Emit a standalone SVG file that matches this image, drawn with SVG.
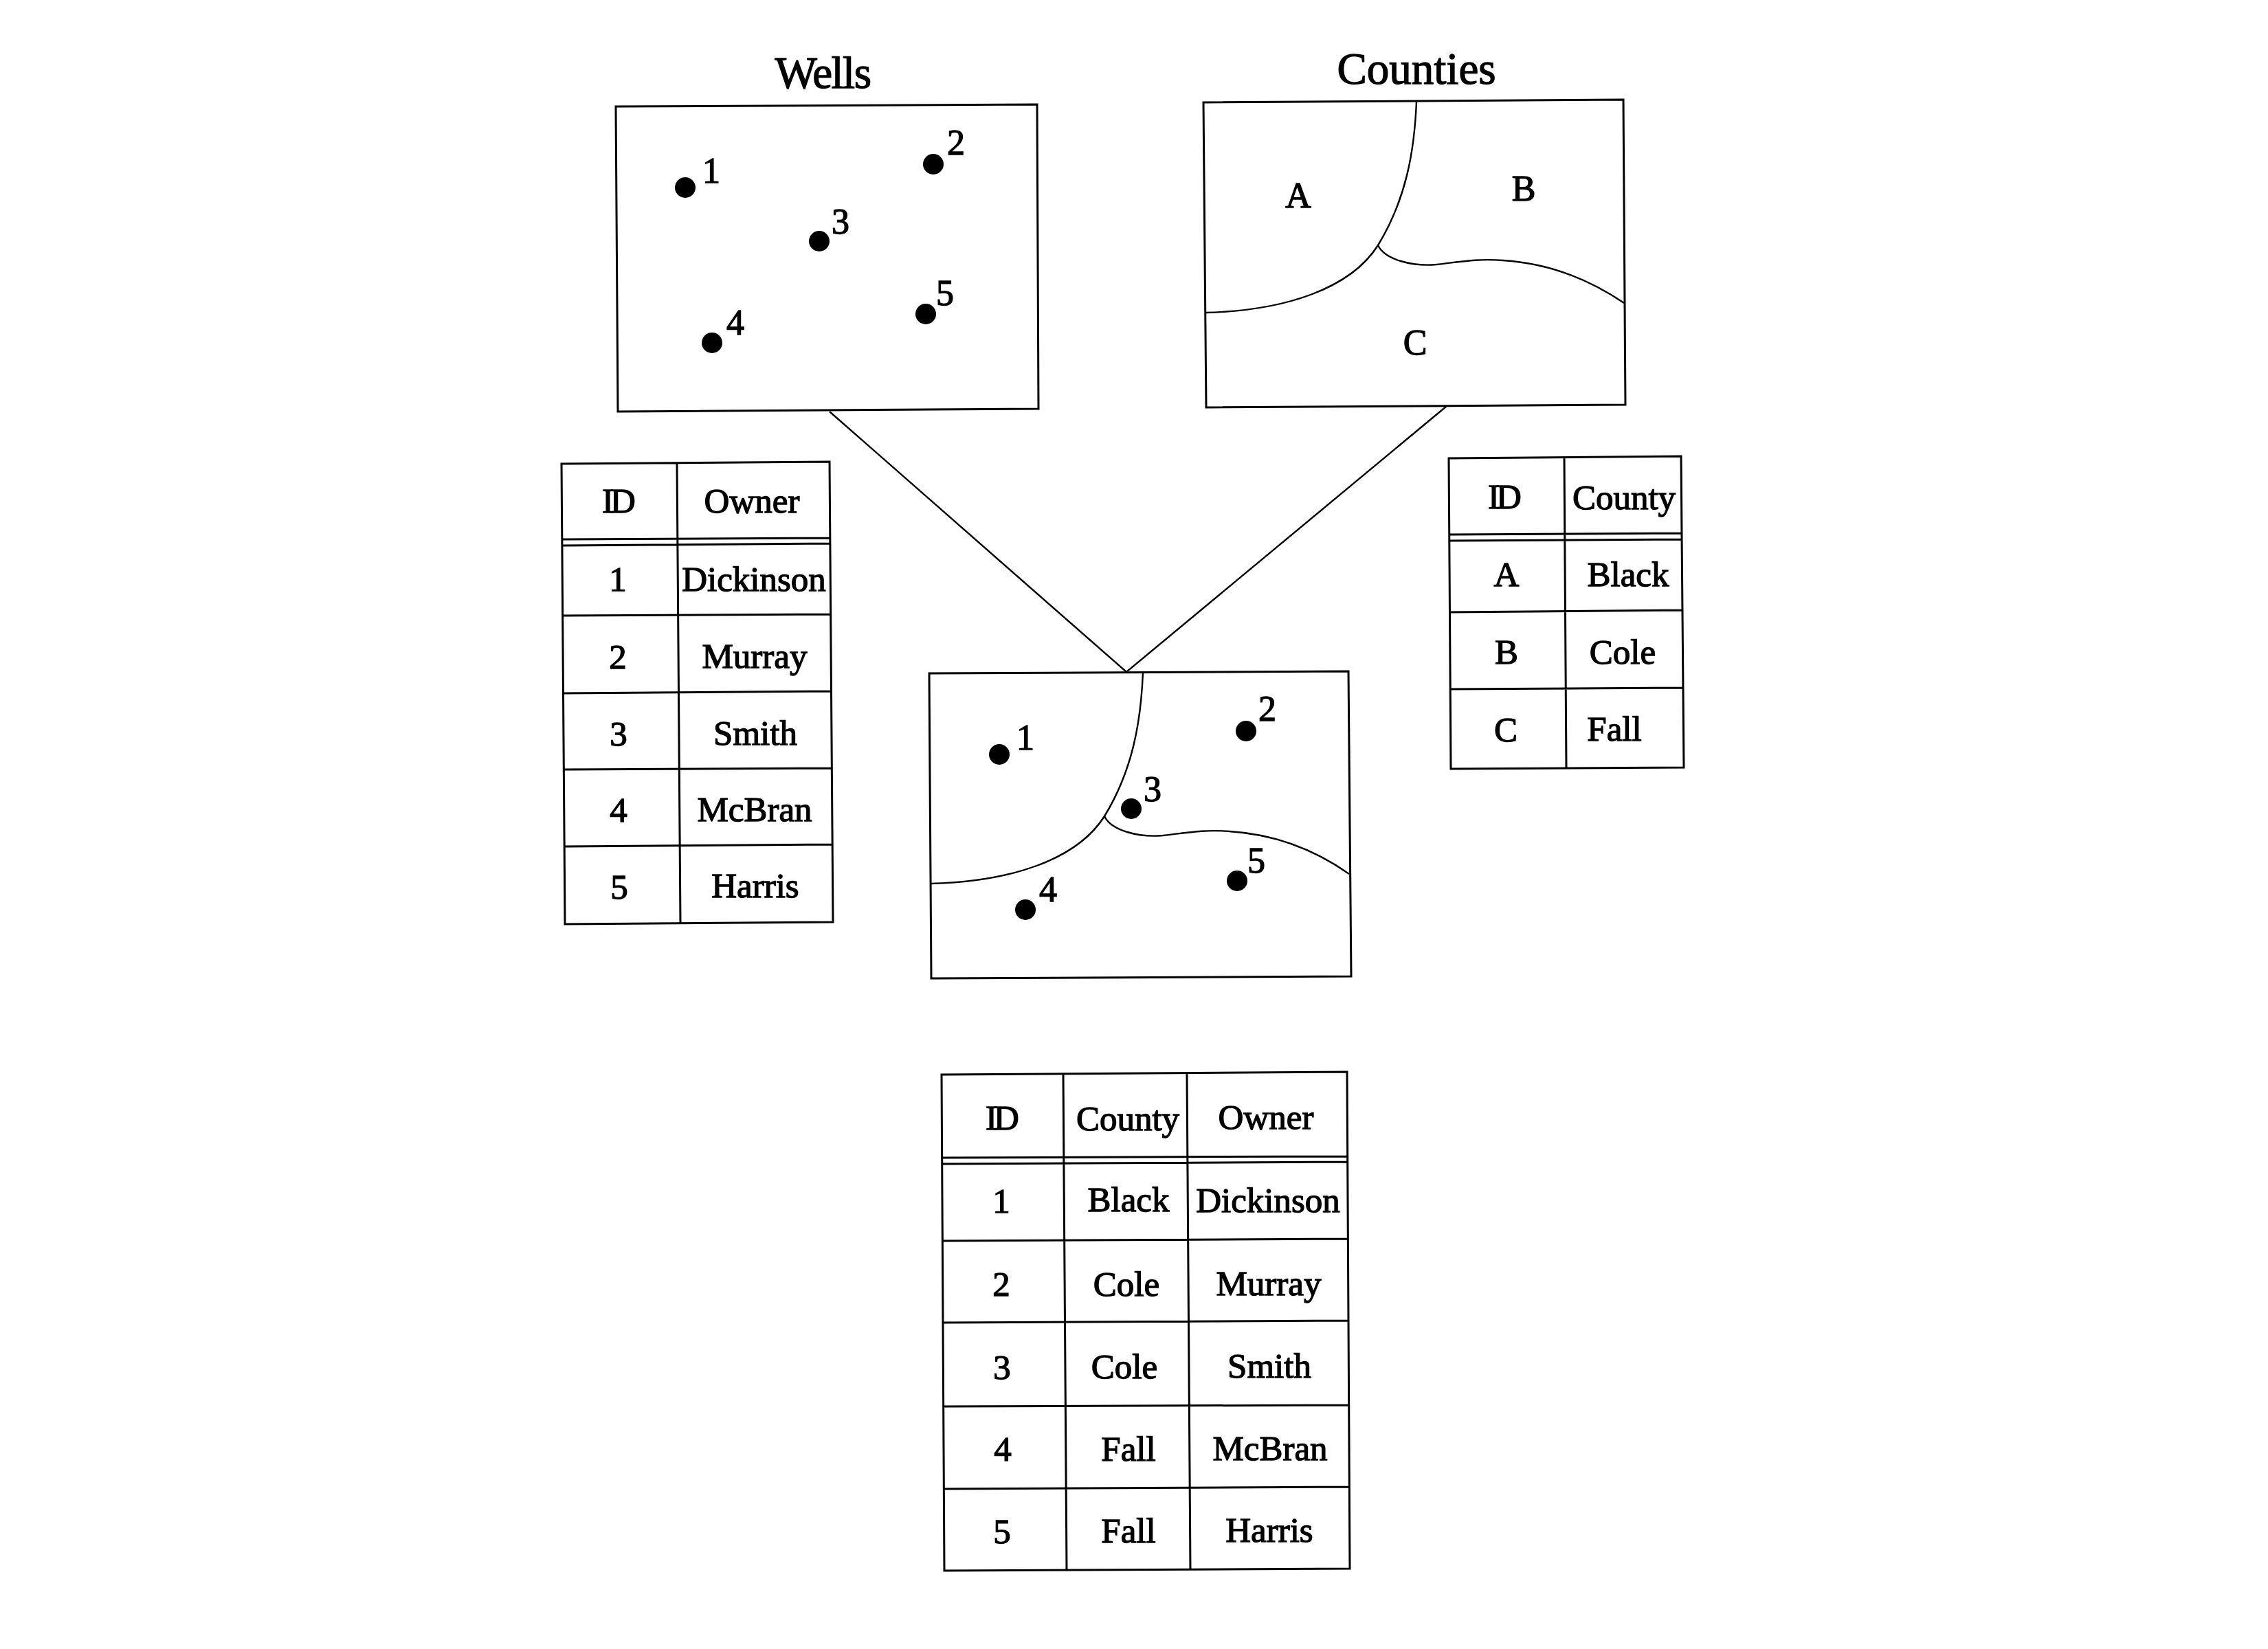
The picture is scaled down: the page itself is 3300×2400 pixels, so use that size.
<svg xmlns="http://www.w3.org/2000/svg" width="3300" height="2400" viewBox="0 0 3300 2400">
<style>
text{font-family:"Liberation Serif","Times New Roman",serif;fill:#000;stroke:#000;stroke-width:1.3;text-anchor:middle}
.t{font-size:65px}.c{font-size:51px}.l{font-size:52px}
.i{letter-spacing:-5px}
.b{fill:none;stroke:#000;stroke-width:3}
.g{fill:none;stroke:#000;stroke-width:2.4}
.d{fill:#000}
</style>
<rect width="3300" height="2400" fill="#fff"/>
<g id="connectors"><path class="g" d="M1207,599L1639,978L2105,591"/></g>

<g id="wells-map">
<text class="t" x="1197" y="128" letter-spacing="-1.5">Wells</text>
<path class="b" d="M896,155L1509,152L1511,595L899,599Z"/>
<circle class="d" cx="997" cy="273" r="15"/><circle class="d" cx="1358" cy="239" r="15"/><circle class="d" cx="1192" cy="351" r="15"/><circle class="d" cx="1036" cy="499" r="15"/><circle class="d" cx="1347" cy="457" r="15"/>
<text class="l" x="1035" y="266">1</text><text class="l" x="1391" y="225">2</text><text class="l" x="1223" y="340">3</text><text class="l" x="1070" y="487">4</text><text class="l" x="1375" y="444">5</text>
</g>

<g id="counties-map">
<text class="t" x="2061" y="122">Counties</text>
<path class="b" d="M1751,149L2362,145L2365,589L1755,593Z"/>
<path class="g" d="M2061,148C2058,220 2046,290 2005,357C1965,420 1870,452 1755,455"/>
<path class="g" d="M2005,357C2015,378 2055,388 2090,385C2125,381 2150,376 2187,379C2250,383 2310,405 2363,441"/>
<text class="l" x="1889" y="302">A</text><text class="l" x="2217" y="292">B</text><text class="l" x="2059" y="516">C</text>
</g>

<g id="overlay-map">
<path class="b" d="M1352,980L1962,977L1966,1421L1355,1424Z"/>
<path class="g" d="M1663,979C1660,1051 1648,1121 1607,1188C1567,1251 1472,1283 1354,1286"/>
<path class="g" d="M1607,1188C1617,1209 1657,1219 1692,1216C1727,1212 1752,1207 1789,1210C1852,1214 1912,1236 1963,1272"/>
<circle class="d" cx="1454" cy="1098" r="15"/><circle class="d" cx="1813" cy="1064" r="15"/><circle class="d" cx="1646" cy="1177" r="15"/><circle class="d" cx="1492" cy="1324" r="15"/><circle class="d" cx="1800" cy="1282" r="15"/>
<text class="l" x="1492" y="1091">1</text><text class="l" x="1844" y="1049">2</text><text class="l" x="1677" y="1166">3</text><text class="l" x="1525" y="1312">4</text><text class="l" x="1828" y="1270">5</text>
</g>

<g id="wells-table">
<path class="b" d="M817,675L1207,672L1212,1342L822,1345ZM985,674L990,1344M818,785L1208,783M818,794L1208,791M819,896L1209,894M820,1009L1210,1006M821,1120L1211,1118M822,1232L1212,1229"/>
<text class="c i" x="898" y="746">ID</text><text class="c" x="1094" y="746">Owner</text>
<text class="c" x="899" y="860">1</text><text class="c" x="1097" y="860">Dickinson</text>
<text class="c" x="899" y="973">2</text><text class="c" x="1098" y="972">Murray</text>
<text class="c" x="900" y="1085">3</text><text class="c" x="1099" y="1084">Smith</text>
<text class="c" x="900" y="1196">4</text><text class="c" x="1098" y="1195">McBran</text>
<text class="c" x="901" y="1308">5</text><text class="c" x="1099" y="1306">Harris</text>
</g>

<g id="counties-table">
<path class="b" d="M2108,667L2446,664L2450,1117L2111,1119ZM2276,665L2279,1118M2109,778L2447,776M2109,787L2447,785M2109,891L2448,888M2110,1003L2449,1001"/>
<text class="c i" x="2187" y="740">ID</text><text class="c" x="2363" y="741">County</text>
<text class="c" x="2192" y="853">A</text><text class="c" x="2369" y="853">Black</text>
<text class="c" x="2192" y="966">B</text><text class="c" x="2361" y="966">Cole</text>
<text class="c" x="2191" y="1079">C</text><text class="c" x="2349" y="1078">Fall</text>
</g>

<g id="joined-table">
<path class="b" d="M1370,1564L1960,1560L1964,2283L1374,2286ZM1547,1563L1552,2285M1727,1562L1732,2284M1371,1685L1961,1683M1371,1694L1961,1691M1372,1806L1962,1803M1372,1925L1962,1922M1373,2047L1963,2045M1373,2167L1963,2164"/>
<text class="c i" x="1456" y="1644">ID</text><text class="c" x="1641" y="1645">County</text><text class="c" x="1842" y="1643">Owner</text>
<text class="c" x="1457" y="1765">1</text><text class="c" x="1642" y="1763">Black</text><text class="c" x="1845" y="1764">Dickinson</text>
<text class="c" x="1457" y="1886">2</text><text class="c" x="1639" y="1886">Cole</text><text class="c" x="1846" y="1885">Murray</text>
<text class="c" x="1458" y="2007">3</text><text class="c" x="1636" y="2006">Cole</text><text class="c" x="1847" y="2005">Smith</text>
<text class="c" x="1459" y="2126">4</text><text class="c" x="1642" y="2126">Fall</text><text class="c" x="1848" y="2125">McBran</text>
<text class="c" x="1458" y="2246">5</text><text class="c" x="1642" y="2245">Fall</text><text class="c" x="1847" y="2244">Harris</text>
</g>
</svg>
